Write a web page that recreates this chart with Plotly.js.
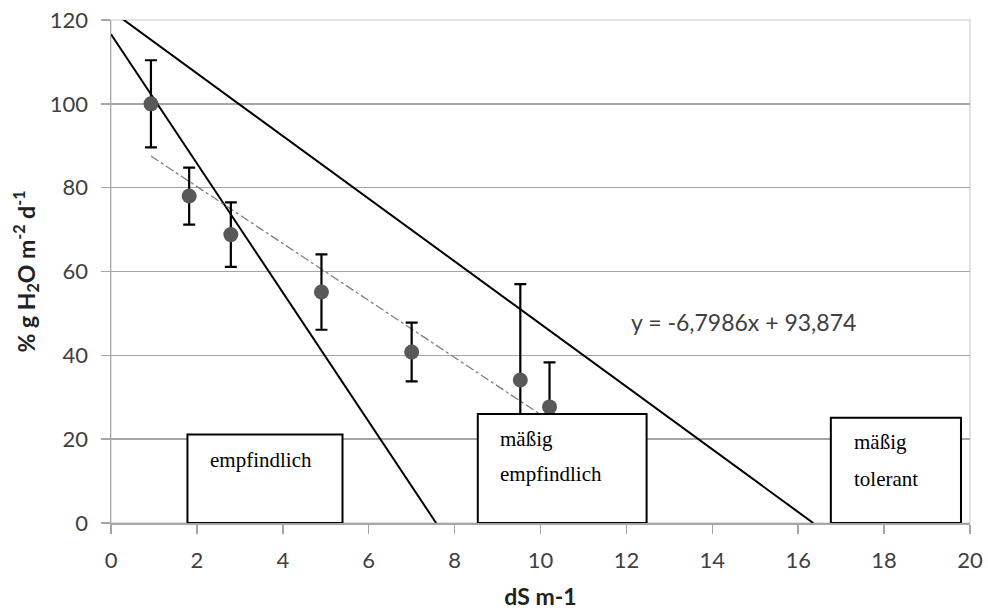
<!DOCTYPE html>
<html>
<head>
<meta charset="utf-8">
<script src="https://cdn.plot.ly/plotly-3.0.1.min.js"></script>
<style>html,body{margin:0;padding:0;background:#fff;}#chart{width:988px;height:610px;}</style>
</head>
<body>
<div id="chart"></div>
<script>
// Measured points (dS m-1 vs % g H2O m-2 d-1)
const xVals = [0.93, 1.82, 2.79, 4.9, 7.0, 9.53, 10.21];
const yVals = [100, 78, 68.8, 55.1, 40.8, 34.1, 27.7];
const errVals = [10.4, 6.8, 7.7, 9.0, 7.0, 22.9, 10.6];

// Linear trend line endpoints
const trendX = [0.93, 10.21];
const trendY = [87.55, 24.46];
const trendLabel = 'y = -6,7986x + 93,874';

// Threshold lines
const line1X = [0, 7.57];
const line1Y = [116.6, 0];
const line2X = [0.22, 16.35];
const line2Y = [120.6, 0];

// Category labels (one entry per text line)
const boxLabels = [['empfindlich'], ['mäßig', 'empfindlich'], ['mäßig', 'tolerant']];
const xTicks = [0, 2, 4, 6, 8, 10, 12, 14, 16, 18, 20];
const yTicks = [0, 20, 40, 60, 80, 100, 120];

const tickFont = {family: 'Lato, sans-serif', size: 22, color: '#404040'};
const titleFont = {family: 'Lato, sans-serif', size: 23, color: '#222', weight: 'bold'};
const serif = {family: '"Liberation Serif", "Times New Roman", serif', size: 21, color: '#000'};

const traces = [
  {x: line1X, y: line1Y, mode: 'lines', line: {color: '#000', width: 2}, hoverinfo: 'skip'},
  {x: line2X, y: line2Y, mode: 'lines', line: {color: '#000', width: 2}, hoverinfo: 'skip'},
  {x: trendX, y: trendY, mode: 'lines', line: {color: '#7f7f7f', width: 1.3, dash: 'dashdot'}, hoverinfo: 'skip'},
  {x: xVals, y: yVals, mode: 'markers', marker: {color: '#595959', size: 15},
   error_y: {type: 'data', array: errVals, visible: true, color: '#000', thickness: 2.2, width: 6}}
];

const boxes = [
  {x0: 1.78, x1: 5.39, y0: 0, y1: 21.1, tx: 2.26, ty: [15.1]},
  {x0: 8.54, x1: 12.47, y0: 0, y1: 26.0, tx: 9.02, ty: [20.1, 11.6]},
  {x0: 16.76, x1: 19.79, y0: 0, y1: 25.1, tx: 17.25, ty: [19.3, 10.6]}
];

const shapes = boxes.map(b => ({type: 'rect', xref: 'x', yref: 'y', x0: b.x0, x1: b.x1, y0: b.y0, y1: b.y1,
  fillcolor: '#fff', line: {color: '#000', width: 2}, layer: 'above'}));
shapes.push({type: 'rect', xref: 'paper', yref: 'paper', x0: 0, x1: 1, y0: 0, y1: 1,
  line: {color: '#d9d9d9', width: 1.5}, layer: 'below'});

const annotations = [];
boxes.forEach((b, i) => {
  boxLabels[i].forEach((t, j) => {
    annotations.push({xref: 'x', yref: 'y', x: b.tx, y: b.ty[j], text: t, showarrow: false,
      xanchor: 'left', yanchor: 'middle', align: 'left', font: serif});
  });
});
annotations.push({xref: 'x', yref: 'y', x: 12.07, y: 48.0, text: trendLabel, showarrow: false,
  xanchor: 'left', yanchor: 'middle', font: {family: 'Lato, sans-serif', size: 23, color: '#404040'}});

const layout = {
  width: 988, height: 610,
  margin: {l: 111, r: 18, t: 20, b: 87},
  paper_bgcolor: '#fff', plot_bgcolor: '#fff',
  showlegend: false,
  font: tickFont,
  xaxis: {range: [0, 20], tickvals: xTicks, ticktext: xTicks.map(String), showgrid: false, zeroline: false,
    showline: true, linecolor: '#a6a6a6', linewidth: 1.5, ticks: 'outside', ticklen: 9, tickcolor: '#a6a6a6', tickwidth: 1.5,
    tickfont: tickFont, ticklabelstandoff: 8,
    title: {text: 'dS m-1', font: titleFont, standoff: 20}},
  yaxis: {range: [0, 120], tickvals: yTicks, ticktext: yTicks.map(String), showgrid: true, gridcolor: '#a6a6a6', gridwidth: 1.5,
    zeroline: false, showline: true, linecolor: '#a6a6a6', linewidth: 1.5, ticks: 'outside', ticklen: 9, tickcolor: '#a6a6a6', tickwidth: 1.5,
    tickfont: tickFont, ticklabelstandoff: 8,
    title: {text: '% g H<sub>2</sub>O m<sup>-2</sup> d<sup>-1</sup>', font: titleFont, standoff: 8}},
  shapes: shapes,
  annotations: annotations
};

Plotly.newPlot('chart', traces, layout, {displayModeBar: false, staticPlot: true});
</script>
</body>
</html>
